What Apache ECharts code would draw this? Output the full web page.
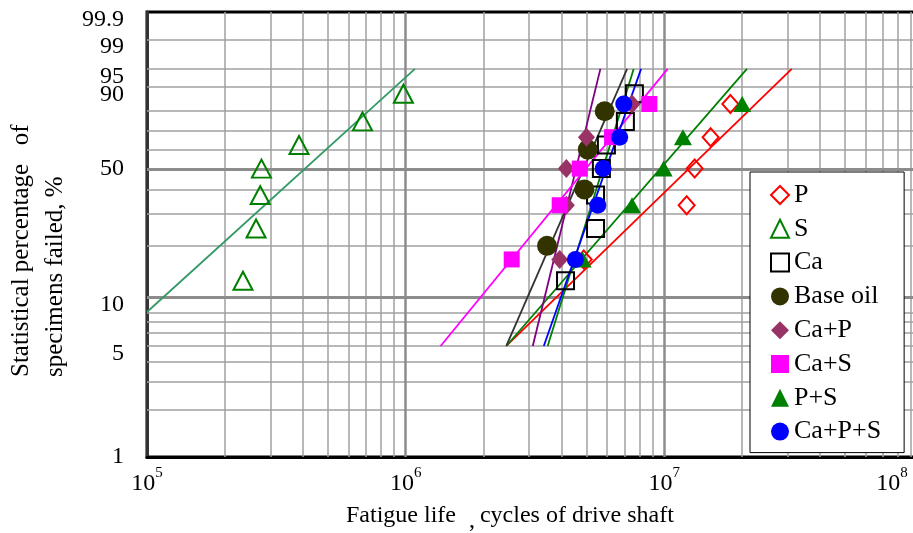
<!DOCTYPE html>
<html>
<head>
<meta charset="utf-8">
<script src="https://cdn.jsdelivr.net/npm/echarts@6/dist/echarts.min.js"></script>
<style>
html, body { margin: 0; padding: 0; background: #fff; }
#chart { width: 913px; height: 533px; }
</style>
</head>
<body>
<div id="chart"></div>
<script>
// failed percentage (rank) for each sample size
const pct4 = [20, 40, 60, 80];
const pct5 = [16.7, 33.3, 50, 66.7, 83.3];
const pct7 = [12.5, 25, 37.5, 50, 62.5, 75, 87.5];

// fatigue life, cycles of drive shaft
const lifeP = [4.88e6, 1.22e7, 1.31e7, 1.51e7, 1.80e7];
const lifeS = [2.35e5, 2.64e5, 2.74e5, 2.77e5, 3.87e5, 6.81e5, 9.80e5];
const lifeCa = [4.15e6, 5.42e6, 5.42e6, 5.71e6, 5.97e6, 7.07e6, 7.66e6];
const lifeBase = [3.52e6, 4.91e6, 5.06e6, 5.88e6];
const lifeCaP = [3.94e6, 4.18e6, 4.18e6, 5.00e6, 7.50e6];
const lifeCaS = [2.57e6, 3.94e6, 4.71e6, 6.28e6, 8.75e6];
const lifePS = [4.83e6, 7.50e6, 9.94e6, 1.18e7, 2.00e7];
const lifeCaPS = [4.53e6, 5.53e6, 5.80e6, 6.72e6, 6.97e6];

// fitted Weibull lines: two end points each
const fitPct = [5, 95];
const fitPctS = [8.1, 95];
const fitP = [2.45e6, 3.11e7];
const fitS = [1.0e5, 1.086e6];
const fitCa = [3.54e6, 7.61e6];
const fitBase = [2.45e6, 7.18e6];
const fitCaP = [3.10e6, 5.66e6];
const fitCaS = [1.365e6, 1.03e7];
const fitPS = [2.45e6, 2.086e7];
const fitCaPS = [3.42e6, 8.13e6];

// axis ticks and grid
const yTickPct = [1, 5, 10, 50, 90, 95, 99, 99.9];
const yMinorPct = [2, 3, 4, 5, 6, 7, 8, 20, 30, 40, 60, 70, 80, 90, 95, 99];
const yMajorPct = [10, 50];
const xMinor = [2e5, 3e5, 4e5, 5e5, 6e5, 7e5, 8e5, 9e5,
                2e6, 3e6, 4e6, 5e6, 6e6, 7e6, 8e6, 9e6,
                2e7, 3e7, 4e7, 5e7, 6e7, 7e7, 8e7, 9e7];
const xMajor = [1e6, 1e7];

const FONT = 'Liberation Serif';

// Weibull probability scale
function wb(p) { return Math.log(-Math.log(1 - p / 100)); }
function pts(life, pct) { return life.map((v, i) => [v, wb(pct[i])]); }

const markers = [
    { name: 'P', life: lifeP, pct: pct5, symbol: 'diamond', size: [16, 18], fill: 'rgba(255,255,255,0)', stroke: '#ff0000' },
    { name: 'S', life: lifeS, pct: pct7, symbol: 'triangle', size: [19, 18], fill: 'rgba(255,255,255,0)', stroke: '#008000' },
    { name: 'Ca', life: lifeCa, pct: pct7, symbol: 'rect', size: 17, fill: 'rgba(255,255,255,0)', stroke: '#000000' },
    { name: 'Base oil', life: lifeBase, pct: pct4, symbol: 'circle', size: 20, fill: '#333300' },
    { name: 'Ca+P', life: lifeCaP, pct: pct5, symbol: 'diamond', size: [17, 19], fill: '#993366' },
    { name: 'Ca+S', life: lifeCaS, pct: pct5, symbol: 'rect', size: 16, fill: '#ff00ff' },
    { name: 'P+S', life: lifePS, pct: pct5, symbol: 'triangle', size: [18, 16], fill: '#008000' },
    { name: 'Ca+P+S', life: lifeCaPS, pct: pct5, symbol: 'circle', size: 17, fill: '#0000ff' }
];

const fits = [
    { life: fitS, pct: fitPctS, color: '#339966' },
    { life: fitP, pct: fitPct, color: '#ff0000' },
    { life: fitPS, pct: fitPct, color: '#008000' },
    { life: fitCa, pct: fitPct, color: '#008000' },
    { life: fitBase, pct: fitPct, color: '#333333' },
    { life: fitCaP, pct: fitPct, color: '#800080' },
    { life: fitCaS, pct: fitPct, color: '#ff00ff' },
    { life: fitCaPS, pct: fitPct, color: '#0000ff' }
];

const minorStyle = { color: '#a0a0a0', width: 1.5, type: 'solid' };
const majorStyle = { color: '#8c8c8c', width: 3, type: 'solid' };

const gridLines = []
    .concat(yMinorPct.map(p => ({ yAxis: wb(p), lineStyle: minorStyle })))
    .concat(xMinor.map(v => ({ xAxis: v, lineStyle: minorStyle })))
    .concat(yMajorPct.map(p => ({ yAxis: wb(p), lineStyle: majorStyle })))
    .concat(xMajor.map(v => ({ xAxis: v, lineStyle: { color: '#8c8c8c', width: 2.5, type: 'solid' } })));

const series = [{
    name: 'grid',
    type: 'scatter',
    data: [],
    z: 1,
    silent: true,
    markLine: {
        z: 1,
        silent: true,
        animation: false,
        symbol: ['none', 'none'],
        label: { show: false },
        emphasis: { disabled: true },
        data: gridLines
    }
}];

fits.forEach((f, i) => {
    series.push({
        name: 'fit' + i,
        type: 'line',
        data: pts(f.life, f.pct),
        symbol: 'none',
        silent: true,
        z: 2,
        lineStyle: { color: f.color, width: 1.8 }
    });
});

markers.forEach(m => {
    series.push({
        name: m.name,
        type: 'scatter',
        data: pts(m.life, m.pct),
        symbol: m.symbol,
        symbolSize: m.size,
        z: 3,
        itemStyle: m.stroke
            ? { color: m.fill, borderColor: m.stroke, borderWidth: 2, opacity: 1 }
            : { color: m.fill, opacity: 1 }
    });
});

const chart = echarts.init(document.getElementById('chart'));
chart.setOption({
    animation: false,
    backgroundColor: '#fff',
    textStyle: { fontFamily: FONT },
    grid: {
        left: 147, top: 12, width: 776, height: 445,
        outerBoundsMode: 'none',
        containLabel: false,
        show: true, borderColor: '#000', borderWidth: 3, backgroundColor: 'transparent'
    },
    xAxis: {
        type: 'log',
        logBase: 10,
        min: 1e5,
        max: 1e8,
        axisLine: { show: true, onZero: false, lineStyle: { color: '#000', width: 3 } },
        axisTick: { show: false },
        splitLine: { show: false },
        axisLabel: {
            margin: 9,
            showMinLabel: true,
            showMaxLabel: true,
            formatter: function (v) {
                const e = Math.round(Math.log10(v));
                return e === 8 ? '{b|10}{s|' + e + '}{p| }' : '{b|10}{s|' + e + '}';
            },
            rich: {
                b: { fontSize: 24, fontFamily: FONT, color: '#000', lineHeight: 26 },
                s: { fontSize: 15, fontFamily: FONT, color: '#000', padding: [0, 0, 20, 0] },
                p: { width: 62, fontSize: 10 }
            }
        }
    },
    yAxis: {
        type: 'value',
        min: wb(1),
        max: wb(99.9),
        axisLine: { show: true, onZero: false, lineStyle: { color: '#333', width: 3 } },
        axisTick: { show: false },
        splitLine: { show: false },
        axisLabel: {
            customValues: yTickPct.map(wb),
            margin: 23,
            fontSize: 24,
            fontFamily: FONT,
            color: '#000',
            formatter: function (v) {
                const p = +(100 * (1 - Math.exp(-Math.exp(v)))).toFixed(1);
                // labels in the source sit a little below their grid lines
                if (p >= 90 || p === 5 || p === 10) return '{lo|' + p + '}';
                return String(p);
            },
            rich: {
                lo: { fontSize: 24, fontFamily: FONT, color: '#000', padding: [15, 0, 0, 0] }
            }
        }
    },
    legend: {
        orient: 'vertical',
        left: 750,
        top: 172,
        z: 10,
        data: markers.map(m => m.name),
        selectedMode: false,
        itemWidth: 18,
        itemHeight: 18,
        itemGap: 7.8,
        padding: [10, 23, 8, 20],
        backgroundColor: '#fff',
        borderColor: '#000',
        borderWidth: 1,
        textStyle: { fontFamily: FONT, fontSize: 26, color: '#000', lineHeight: 26 }
    },
    graphic: [
        {
            type: 'text', x: 38, y: 377, rotation: Math.PI / 2,
            style: {
                text: 'Statistical percentage   of\nspecimens failed, %',
                fontSize: 25, fontFamily: FONT, fill: '#000',
                align: 'left', verticalAlign: 'middle', lineHeight: 34
            }
        },
        {
            type: 'text', x: 346, y: 516,
            style: {
                text: 'Fatigue life    cycles of drive shaft',
                fontSize: 24, fontFamily: FONT, fill: '#000',
                align: 'left', verticalAlign: 'middle'
            }
        },
        {
            type: 'text', x: 469, y: 521,
            style: { text: ',', fontSize: 24, fontFamily: FONT, fill: '#000', align: 'left', verticalAlign: 'middle' }
        }
    ],
    series: series
});
</script>
</body>
</html>
